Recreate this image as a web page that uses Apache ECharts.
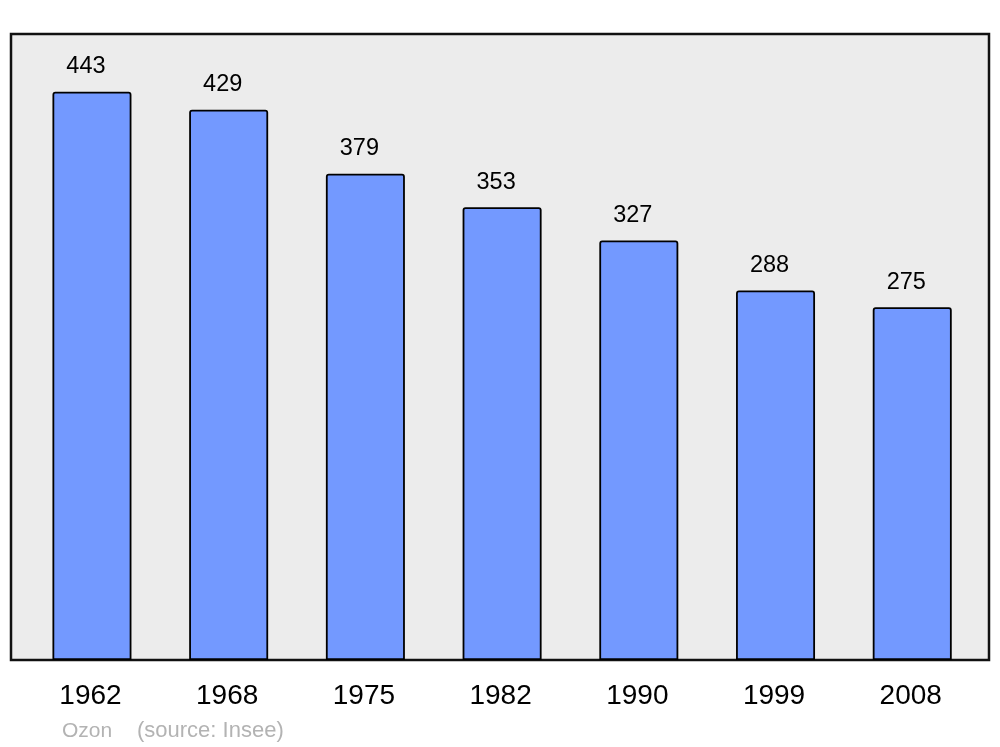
<!DOCTYPE html>
<html>
<head>
<meta charset="utf-8">
<script src="https://cdn.jsdelivr.net/npm/echarts@6/dist/echarts.min.js"></script>
<style>
  html, body { margin: 0; padding: 0; background: #ffffff; }
  #chart { width: 1000px; height: 747px; }
</style>
</head>
<body>
<div id="chart"></div>
<script>
const years = ['1962', '1968', '1975', '1982', '1990', '1999', '2008'];
const population = [443, 429, 379, 353, 327, 288, 275];
const footerName = 'Ozon';
const footerSource = '(source: Insee)';

const chart = echarts.init(document.getElementById('chart'), null, { renderer: 'canvas' });
const font = '"Liberation Sans", Arial, sans-serif';

chart.setOption({
  animation: false,
  backgroundColor: '#ffffff',
  grid: [
    { left: 11, right: 11, top: 34, bottom: 87, show: true, backgroundColor: '#ececec', borderColor: '#111111', borderWidth: 2.5 },
    { left: 23.6, right: 19.4, top: 34, bottom: 87 }
  ],
  xAxis: [
    { gridIndex: 0, type: 'value', show: false, min: 0, max: 1 },
    {
      gridIndex: 1, type: 'category', data: years,
      axisLine: { show: false }, axisTick: { show: false },
      axisLabel: { color: '#000000', fontSize: 28, fontFamily: font, margin: 22, padding: [0, 3, 0, 0] }
    }
  ],
  yAxis: [
    { gridIndex: 0, type: 'value', show: false, min: 0, max: 1 },
    { gridIndex: 1, type: 'value', min: 0, max: 488, show: false }
  ],
  graphic: [
    { type: 'text', left: 62, top: 721, style: { text: footerName, fill: '#b3b3b3', font: '21px ' + font } },
    { type: 'text', left: 137, top: 720, style: { text: footerSource, fill: '#b3b3b3', font: '22px ' + font } }
  ],
  series: [{
    type: 'bar',
    xAxisIndex: 1, yAxisIndex: 1,
    data: population,
    barWidth: 79,
    itemStyle: { color: '#7399ff', borderColor: '#000000', borderWidth: 1.8, borderRadius: [2, 2, 0, 0] },
    label: {
      show: true, position: 'top', distance: 13, offset: [-6, 0],
      color: '#000000', fontSize: 23.5, fontFamily: font
    }
  }]
});
</script>
</body>
</html>
